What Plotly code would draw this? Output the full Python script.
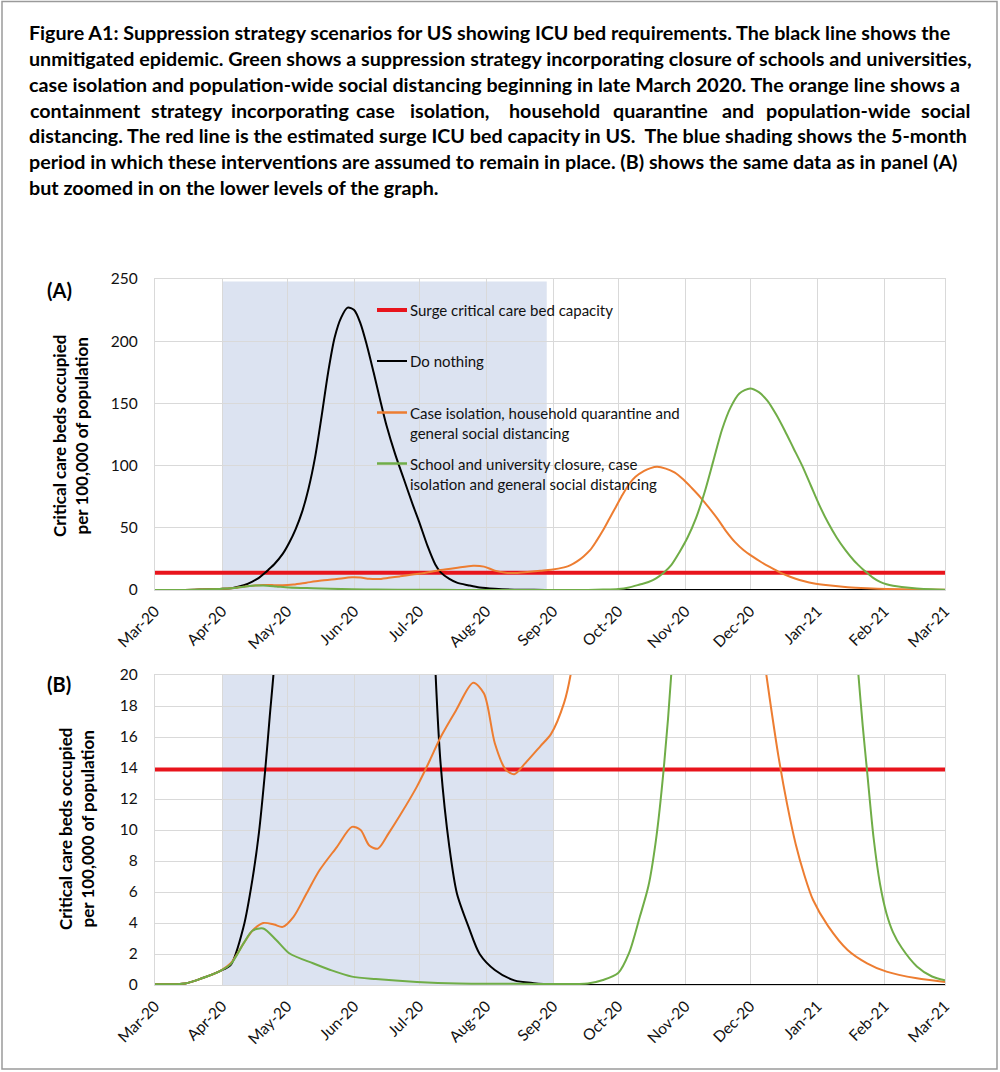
import plotly.graph_objects as go
import pandas as pd

W, H = 1000, 1072
START = "2020-03-01"

# ---------------- data ----------------
tick_dates = ["2020-03-01", "2020-04-01", "2020-05-01", "2020-06-01", "2020-07-01",
              "2020-08-01", "2020-09-01", "2020-10-01", "2020-11-01", "2020-12-01",
              "2021-01-01", "2021-02-01", "2021-03-01"]
tick_labels = ["Mar-20", "Apr-20", "May-20", "Jun-20", "Jul-20", "Aug-20", "Sep-20",
               "Oct-20", "Nov-20", "Dec-20", "Jan-21", "Feb-21", "Mar-21"]

# days since 1 March 2020
black_days = [0, 14, 22, 30, 35, 41, 45, 48, 51, 53, 55, 59, 62, 65, 68, 71, 74, 77, 80,
              83, 86, 89, 92, 95, 98, 101, 104, 107, 111, 115, 119, 122, 126, 129.5, 132,
              136, 139.5, 145, 150, 157, 166, 175, 185, 200, 365]
black_vals = [0.05, 0.1, 0.45, 0.9, 1.3, 3.8, 6.8, 9.8, 14, 17.3, 20.5, 29, 38, 49, 63,
              82, 107, 140, 175, 203, 219, 227, 225, 214, 196, 175, 153, 132, 109, 89,
              69, 55, 35, 20.5, 14.2, 8.9, 5.9, 3.7, 2.0, 0.97, 0.3, 0.12, 0.03, 0, 0]

orange_days = [0, 14, 22, 30, 35, 41, 45, 50, 55, 59, 64, 70, 76, 84, 91, 95, 99, 103,
               108, 113, 121, 127, 132, 139, 147, 152, 157, 162, 166, 171, 178, 183,
               189, 192, 195, 198, 201, 204, 207, 210, 213, 216, 219, 222, 226, 229, 232,
               236, 240, 244, 248, 252, 256, 260, 264, 268, 272, 276, 280, 284, 288, 292,
               296, 300, 304, 311, 320, 329, 338, 352, 365]
orange_vals = [0.05, 0.1, 0.45, 0.9, 1.4, 2.7, 3.5, 4.0, 3.9, 3.75, 4.4, 5.9, 7.4, 8.9,
               10.2, 10.0, 9.0, 8.8, 9.8, 10.9, 12.8, 14.5, 16, 17.7, 19.5, 18.8, 15.6,
               13.9, 13.6, 14.3, 15.4, 16.2, 18.2, 20, 23, 27, 32, 39.5, 48, 57.5, 67,
               76.5, 85, 91, 95.8, 98, 99, 97.6, 94.5, 89, 82, 74.5, 66, 57, 47, 38.5, 32,
               27, 22.5, 18.5, 14.8, 11.7, 9.1, 7.1, 5.5, 3.8, 2.26, 1.4, 0.86, 0.43, 0.2]

green_days = [0, 14, 22, 30, 35, 41, 45, 50, 56, 62, 73, 81, 91, 102, 121, 140, 170, 200,
              207, 214, 219, 224, 228, 231.5, 235, 238.5, 242.5, 246, 250, 254, 258, 262,
              266, 270, 275, 279, 283, 287, 291, 295, 299, 303, 307, 311, 315, 319, 323,
              325, 327, 329, 332, 335, 338, 341, 345, 352, 359, 365]
green_vals = [0.05, 0.1, 0.45, 0.9, 1.35, 2.7, 3.5, 3.65, 2.9, 2.05, 1.4, 0.97, 0.54,
              0.38, 0.2, 0.1, 0.08, 0.1, 0.32, 0.77, 2.05, 4.4, 6.4, 9.4, 13.9, 20, 31,
              42, 58, 79, 104, 129, 147, 158, 162, 159, 152, 141, 128, 114, 100, 84, 68,
              54, 42, 32, 23.5, 20, 16.7, 13.8, 9.5, 6.5, 4.6, 3.4, 2.4, 1.2, 0.55, 0.3]

capacity_dates = ["2020-03-01", "2021-03-01"]
capacity_vals = [13.9, 13.9]

shade_start = "2020-04-01"
shade_end_a = "2020-08-29"
shade_end_b = "2020-09-01"
shade_top_a = 248

series_names = ["Surge critical care bed capacity", "Do nothing",
                "Case isolation, household quarantine and<br>general social distancing",
                "School and university closure, case<br>isolation and general social distancing"]

title_lines = [
    "Figure A1: Suppression strategy scenarios for US showing ICU bed requirements. The black line shows the",
    "unmitigated epidemic. Green shows a suppression strategy incorporating closure of schools and universities,",
    "case isolation and population-wide social distancing beginning in late March 2020. The orange line shows a",
    None,
    "distancing. The red line is the estimated surge ICU bed capacity in US.&nbsp; The blue shading shows the 5-month",
    "period in which these interventions are assumed to remain in place. (B) shows the same data as in panel (A)",
    "but zoomed in on the lower levels of the graph.",
]
line4_words = ["containment", "strategy", "incorporating", "case", "isolation,", "household",
               "quarantine", "and", "population-wide", "social"]
line4_centers = [83.5, 187, 290, 375, 449, 554, 660.5, 737.5, 837.5, 947]

# ---------------- style ----------------
RED = "#E8141C"
BLACK = "#000000"
ORANGE = "#ED7D31"
GREEN = "#70AD47"
SHADE = "#DCE3F1"
GRID = "#D9D9D9"
FONT = "Lato"
TITLE_SIZE = 19.7
TEXT_LEFT, TEXT_RIGHT = 28, 972


def to_dates(days):
    return pd.Timestamp(START) + pd.to_timedelta(days, unit="D")


def px(x):
    return x / W


def py(y):
    return 1 - y / H


fig = go.Figure()

for xa, ya in [("x", "y"), ("x2", "y2")]:
    fig.add_trace(go.Scatter(x=capacity_dates, y=capacity_vals, mode="lines",
                             line=dict(color=RED, width=4), xaxis=xa, yaxis=ya,
                             name=series_names[0], showlegend=False))
    fig.add_trace(go.Scatter(x=to_dates(black_days), y=black_vals, mode="lines",
                             line=dict(color=BLACK, width=2, shape="spline", smoothing=0.8),
                             xaxis=xa, yaxis=ya, name=series_names[1], showlegend=False))
    fig.add_trace(go.Scatter(x=to_dates(orange_days), y=orange_vals, mode="lines",
                             line=dict(color=ORANGE, width=2, shape="spline", smoothing=0.8),
                             xaxis=xa, yaxis=ya, name=series_names[2], showlegend=False))
    fig.add_trace(go.Scatter(x=to_dates(green_days), y=green_vals, mode="lines",
                             line=dict(color=GREEN, width=2, shape="spline", smoothing=0.8),
                             xaxis=xa, yaxis=ya, name=series_names[3], showlegend=False))

xcommon = dict(type="date", range=[tick_dates[0], tick_dates[-1]], tickmode="array",
               tickvals=tick_dates, ticktext=tick_labels, tickangle=-45,
               tickfont=dict(family=FONT, size=15.5, color="#111"),
               showgrid=True, gridcolor=GRID, gridwidth=1.3, zeroline=False,
               showline=True, linecolor=GRID, linewidth=1.3, mirror=True,
               ticks="outside", ticklen=5, tickcolor="rgba(0,0,0,0)", automargin=False)
ycommon = dict(tickfont=dict(family=FONT, size=15.5, color="#111"),
               showgrid=True, gridcolor=GRID, gridwidth=1.3, zeroline=False,
               showline=True, linecolor=GRID, linewidth=1.3, mirror=True,
               ticks="outside", ticklen=13, tickcolor="rgba(0,0,0,0)", automargin=False)

fig.update_layout(
    width=W, height=H, autosize=False,
    margin=dict(l=0, r=0, t=0, b=0),
    paper_bgcolor="white", plot_bgcolor="white",
    showlegend=False,
    xaxis=dict(domain=[px(155), px(945)], anchor="y", **xcommon),
    yaxis=dict(domain=[py(590), py(279)], anchor="x", range=[0, 250], tickmode="linear",
               tick0=0, dtick=50, **ycommon),
    xaxis2=dict(domain=[px(155), px(945)], anchor="y2", **xcommon),
    yaxis2=dict(domain=[py(985), py(675)], anchor="x2", range=[0, 20], tickmode="linear",
                tick0=0, dtick=2, **ycommon),
)

shapes = [
    dict(type="rect", xref="x", yref="y", x0=shade_start, x1=shade_end_a, y0=0,
         y1=shade_top_a, fillcolor=SHADE, line=dict(width=0), layer="below"),
    dict(type="rect", xref="x2", yref="y2", x0=shade_start, x1=shade_end_b, y0=0, y1=20,
         fillcolor=SHADE, line=dict(width=0), layer="below"),
    dict(type="rect", xref="paper", yref="paper", x0=px(2), x1=px(997), y0=py(1069),
         y1=py(1.5), line=dict(color="#9a9a9a", width=1.5)),
]

# manual legend inside panel A
leg_colors = [RED, BLACK, ORANGE, GREEN]
leg_y = [310, 361, 412.5, 463.5]
leg_w = [4, 2, 2.5, 2.5]
annotations = []
for c, yy, lw, name in zip(leg_colors, leg_y, leg_w, series_names):
    shapes.append(dict(type="line", xref="paper", yref="paper", x0=px(377), x1=px(407),
                       y0=py(yy), y1=py(yy), line=dict(color=c, width=lw)))
    annotations.append(dict(xref="paper", yref="paper", x=px(408), y=py(yy - 11),
                            xanchor="left", yanchor="top", align="left", showarrow=False,
                            text=name, font=dict(family=FONT, size=15, color="#111")))

# title
for i, line in enumerate(title_lines):
    yc = 33 + 25.7 * i
    if line is None:
        n = len(line4_words)
        for k, (w, xc) in enumerate(zip(line4_words, line4_centers)):
            if k == 0:
                xa_, anc = TEXT_LEFT, "left"
            elif k == n - 1:
                xa_, anc = TEXT_RIGHT, "right"
            else:
                xa_, anc = xc, "center"
            annotations.append(dict(xref="paper", yref="paper", x=px(xa_), y=py(yc),
                                    xanchor=anc, yanchor="middle", showarrow=False,
                                    text="<b>%s</b>" % w,
                                    font=dict(family=FONT, size=TITLE_SIZE, color="#000")))
    else:
        annotations.append(dict(xref="paper", yref="paper", x=px(TEXT_LEFT - 1), y=py(yc),
                                xanchor="left", yanchor="middle", showarrow=False,
                                text="<b>%s</b>" % line,
                                font=dict(family=FONT, size=TITLE_SIZE, color="#000")))

# panel labels
annotations.append(dict(xref="paper", yref="paper", x=px(45), y=py(290), xanchor="left",
                        yanchor="middle", showarrow=False, text="<b>(A)</b>",
                        font=dict(family=FONT, size=20, color="#000")))
annotations.append(dict(xref="paper", yref="paper", x=px(45), y=py(684), xanchor="left",
                        yanchor="middle", showarrow=False, text="<b>(B)</b>",
                        font=dict(family=FONT, size=20, color="#000")))

# y axis titles
ytitle = "<b>Critical care beds occupied<br>per 100,000 of population</b>"
annotations.append(dict(xref="paper", yref="paper", x=px(70), y=py(436), xanchor="center",
                        yanchor="middle", showarrow=False, textangle=-90, text=ytitle,
                        font=dict(family=FONT, size=17, color="#000")))
annotations.append(dict(xref="paper", yref="paper", x=px(76), y=py(829), xanchor="center",
                        yanchor="middle", showarrow=False, textangle=-90, text=ytitle,
                        font=dict(family=FONT, size=17, color="#000")))

fig.update_layout(shapes=shapes, annotations=annotations)
fig.write_html("out.html", config={"displayModeBar": False},
               post_script="document.body.style.margin='0px';")
